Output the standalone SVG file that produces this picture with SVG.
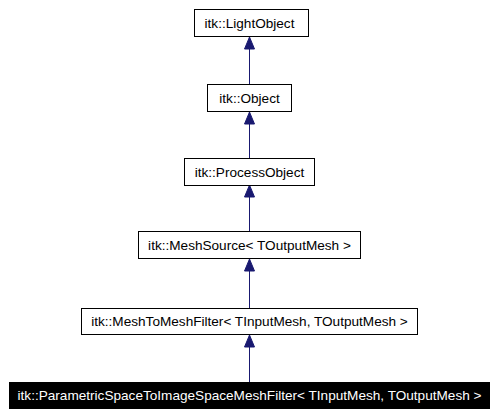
<svg xmlns="http://www.w3.org/2000/svg" width="498" height="415" viewBox="0 0 498 415">
<style>
.box{fill:#ffffff;stroke:#000000;stroke-width:1}
.hl{fill:#000000;stroke:#000000;stroke-width:1}
text{font-family:"Liberation Sans",Arial,sans-serif;font-size:13.6px;text-anchor:middle;fill:#000000}
.hl-t{fill:#ffffff}
.edge{stroke:#191970;stroke-width:1;fill:none}
.head{fill:#191970;stroke:#191970;stroke-width:1}
</style>
<rect width="498" height="415" fill="#ffffff"/>
<g id="connectors">
<line class="edge" x1="249.5" y1="84" x2="249.5" y2="48"/>
<polygon class="head" points="249.5,37 244.5,49 254.5,49"/>
<line class="edge" x1="249.5" y1="158" x2="249.5" y2="123"/>
<polygon class="head" points="249.5,112 244.5,124 254.5,124"/>
<line class="edge" x1="249.5" y1="231" x2="249.5" y2="196"/>
<polygon class="head" points="249.5,185 244.5,197 254.5,197"/>
<line class="edge" x1="249.5" y1="308" x2="249.5" y2="270"/>
<polygon class="head" points="249.5,259 244.5,271 254.5,271"/>
<line class="edge" x1="249.5" y1="382" x2="249.5" y2="346"/>
<polygon class="head" points="249.5,335 244.5,347 254.5,347"/>
</g>
<g id="node-lightobject">
<rect class="box" x="194.5" y="9.5" width="114" height="27"/>
<text x="249.5" y="27.5">itk::LightObject</text>
</g>
<g id="node-object">
<rect class="box" x="207.5" y="84.5" width="84" height="27"/>
<text x="249.5" y="102.5">itk::Object</text>
</g>
<g id="node-processobject">
<rect class="box" x="184.5" y="158.5" width="130" height="27"/>
<text x="249.5" y="176.5">itk::ProcessObject</text>
</g>
<g id="node-meshsource">
<rect class="box" x="138.5" y="231.5" width="222" height="27"/>
<text x="249.5" y="249.5">itk::MeshSource&lt; TOutputMesh &gt;</text>
</g>
<g id="node-meshtomeshfilter">
<rect class="box" x="81.5" y="308.5" width="336" height="26"/>
<text x="249.5" y="326">itk::MeshToMeshFilter&lt; TInputMesh, TOutputMesh &gt;</text>
</g>
<g id="node-parametric">
<rect class="hl" x="9.5" y="382.5" width="480" height="26"/>
<text class="hl-t" x="249.5" y="400">itk::ParametricSpaceToImageSpaceMeshFilter&lt; TInputMesh, TOutputMesh &gt;</text>
</g>
</svg>
